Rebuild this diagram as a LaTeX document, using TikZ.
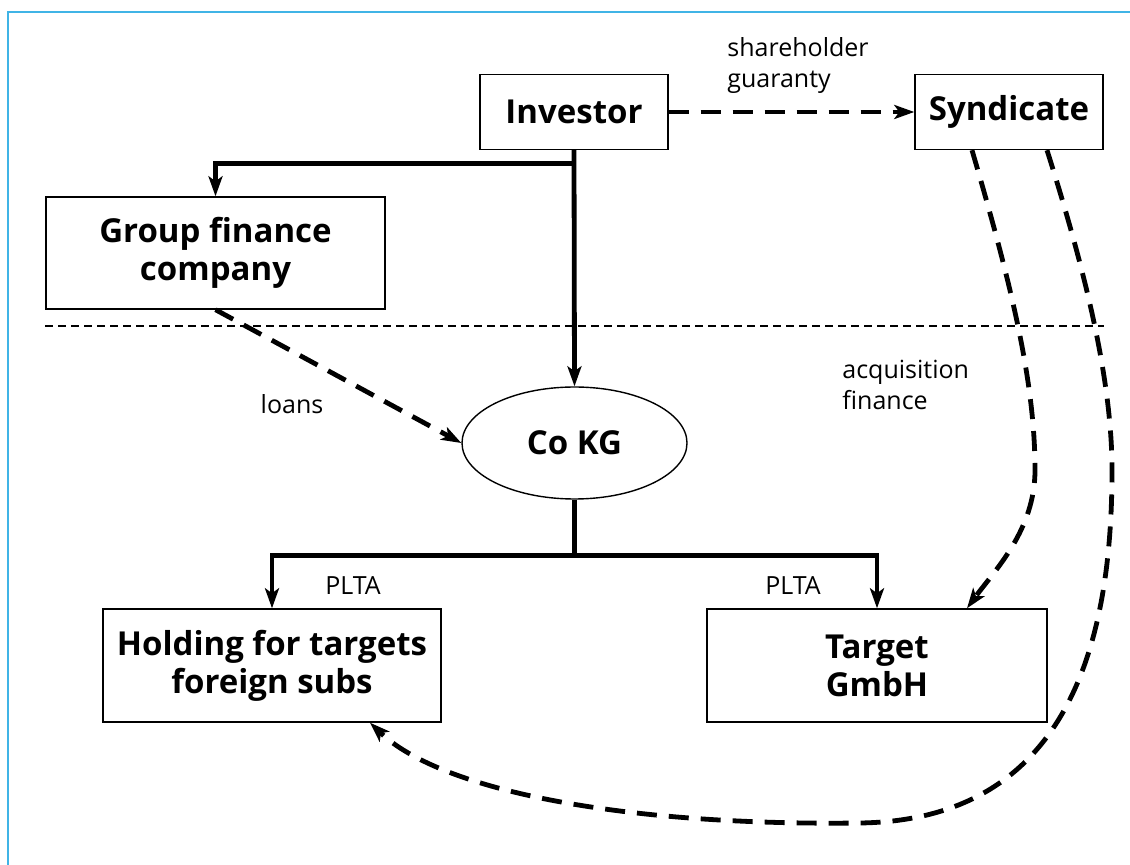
\documentclass[tikz,border=0pt]{standalone}
\usepackage{fontspec}
\setmainfont{Open Sans}
\usepackage{tikz}
\usetikzlibrary{arrows.meta,positioning,shapes.geometric}
\definecolor{framecol}{RGB}{64,180,230}

\begin{document}
\begin{tikzpicture}[
    x=0.5pt, y=-0.5pt,
    entity/.style={draw, line width=0.7pt, align=center, font=\fontsize{16.5}{19}\selectfont\bfseries, inner sep=2pt},
    note/.style={align=left, font=\fontsize{12.5}{15.5}\selectfont, inner sep=0pt},
    link/.style={line width=2.4pt},
    arrow/.style={-{Stealth[length=10pt, width=7pt, inset=2.5pt]}, line width=2.4pt},
    loanarrow/.style={arrow, dash pattern=on 10pt off 6pt},
    divider/.style={line width=1pt, dash pattern=on 4pt off 2.5pt}
]
\useasboundingbox (0,0) rectangle (1130,865);
\draw[framecol, line width=1pt] (8,865) -- (8,12) -- (1130,12);

\node[entity, minimum width=94pt, minimum height=37.5pt] (investor) at (574,112) {Investor};
\node[entity, minimum width=94pt, minimum height=37.5pt] (syndicate) at (1009,112) {Syndicate};
\node[entity, minimum width=169.5pt, minimum height=56pt] (group) at (215.5,253) {Group finance\\company};
\node[entity, ellipse, minimum width=112.5pt, minimum height=56pt, inner sep=0pt] (cokg) at (574.5,443) {Co KG};
\node[entity, minimum width=169pt, minimum height=56.5pt] (holding) at (272,665.5) {Holding for targets\\foreign subs};
\node[entity, minimum width=170pt, minimum height=56.5pt] (target) at (877,665.5) {Target\\GmbH};

\node[note, anchor=west] (guaranty) at (727,66) {shareholder\\guaranty};
\node[note, anchor=west] (acqfin) at (842,385) {acquisition\\finance};
\node[note] (loans) at (292,404) {loans};
\node[note] (plta1) at (353,586) {PLTA};
\node[note] (plta2) at (793,586) {PLTA};

\draw[divider] (group.west |- 0,326) -- (syndicate.east |- 0,326);

\coordinate (branch) at ([yshift=-6.5pt]investor.south);
\coordinate (split) at ([yshift=-28pt]cokg.south);
\draw[arrow] (investor.south) -- (cokg.north);
\draw[arrow] (branch) -| (group);
\draw[link] (cokg.south) -- (split);
\draw[arrow] (split) -| (holding);
\draw[arrow] (split) -| (target);

\draw[loanarrow] (investor) -- (syndicate);
\draw[loanarrow] (group.south) -- (cokg.west);
\draw[loanarrow] ([xshift=-18.5pt]syndicate.south) .. controls (1010,280) and (1035,380) .. (1035,470)
    .. controls (1035,530) and (995,570) .. ([xshift=45pt]target.north);
\draw[loanarrow] ([xshift=19pt]syndicate.south) .. controls (1085,270) and (1112,380) .. (1112,470)
    .. controls (1112,640) and (1070,820) .. (860,823)
    .. controls (620,826) and (440,790) .. ([xshift=49pt]holding.south);
\end{tikzpicture}
\end{document}
